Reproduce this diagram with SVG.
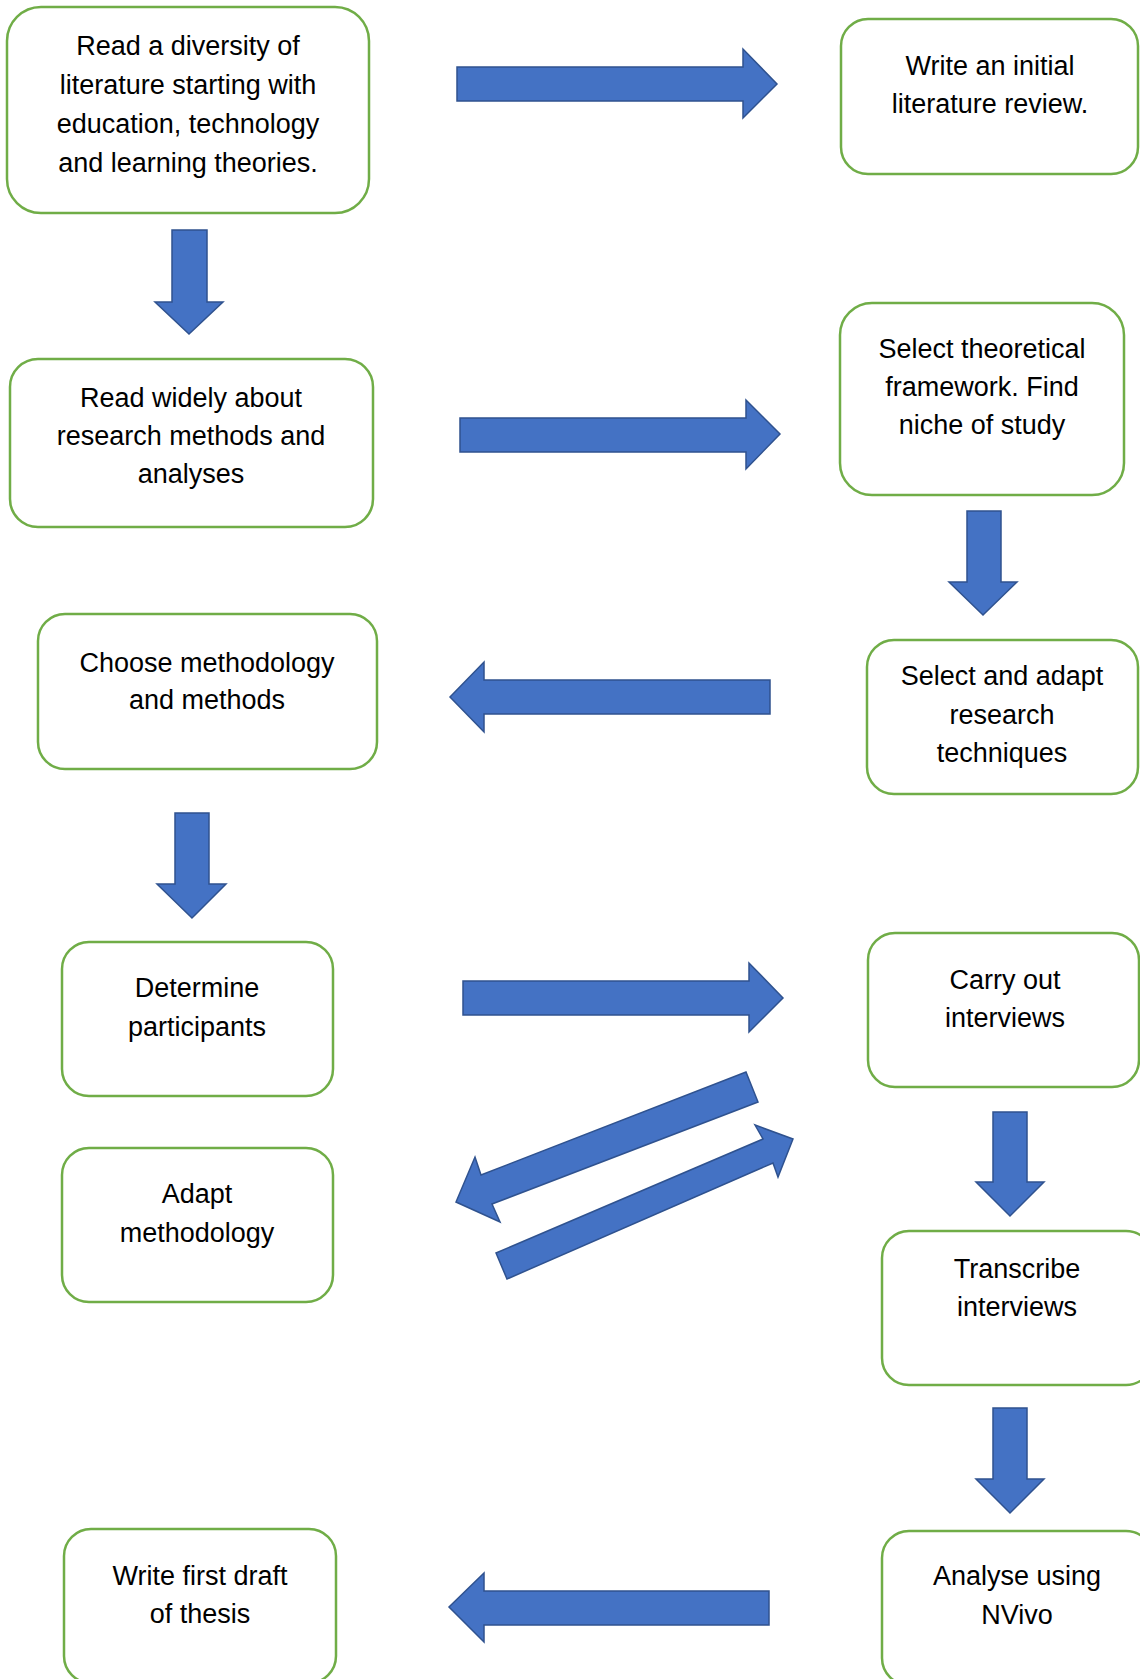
<svg xmlns="http://www.w3.org/2000/svg" width="1140" height="1679" viewBox="0 0 1140 1679">
<style>
.box{fill:#fff;stroke:#70AD47;stroke-width:2.5}
.arr{fill:#4472C4;stroke:#2F528F;stroke-width:1.5;stroke-linejoin:miter}
text{font-family:"Liberation Sans",Arial,sans-serif;font-size:27px;fill:#000;text-anchor:middle}
</style>
<rect width="1140" height="1679" fill="#fff"/>
<g id="connectors">
<polygon class="arr" points="457,67 743,67 743,49 777,84 743,118 743,101 457,101"/>
<polygon class="arr" points="172,230 207,230 207,302 223,302 189,334 155,302 172,302"/>
<polygon class="arr" points="460,418 746,418 746,400 780,434 746,469 746,452 460,452"/>
<polygon class="arr" points="967,511 1001,511 1001,582 1017,582 983,615 949,582 967,582"/>
<polygon class="arr" points="770,680 484,680 484,662 450,697 484,732 484,714 770,714"/>
<polygon class="arr" points="175,813 209,813 209,884 226,884 192,918 157,884 175,884"/>
<polygon class="arr" points="463,981 749,981 749,963 783,998 749,1032 749,1015 463,1015"/>
<polygon class="arr" points="746,1072 758,1102 492,1204 500,1222 456,1202 475,1157 481,1175"/>
<polygon class="arr" points="496,1253 763,1139 755,1125 793,1139 778,1177 773,1163 507,1279"/>
<polygon class="arr" points="993,1112 1027,1112 1027,1182 1044,1182 1010,1216 976,1182 993,1182"/>
<polygon class="arr" points="993,1408 1027,1408 1027,1479 1044,1479 1010,1513 976,1479 993,1479"/>
<polygon class="arr" points="769,1591 484,1591 484,1573 449,1607 484,1642 484,1625 769,1625"/>
</g>
<g id="n1"><rect class="box" x="7" y="7" width="362" height="206" rx="34"/>
<text x="188" y="55">Read a diversity of</text><text x="188" y="94">literature starting with</text><text x="188" y="133">education, technology</text><text x="188" y="172">and learning theories.</text></g>
<g id="n2"><rect class="box" x="841" y="19" width="297" height="155" rx="27"/>
<text x="990" y="75">Write an initial</text><text x="990" y="113">literature review.</text></g>
<g id="n3"><rect class="box" x="10" y="359" width="363" height="168" rx="28"/>
<text x="191" y="407">Read widely about</text><text x="191" y="445">research methods and</text><text x="191" y="483">analyses</text></g>
<g id="n4"><rect class="box" x="840" y="303" width="284" height="192" rx="32"/>
<text x="982" y="358">Select theoretical</text><text x="982" y="396">framework. Find</text><text x="982" y="434">niche of study</text></g>
<g id="n5"><rect class="box" x="38" y="614" width="339" height="155" rx="27"/>
<text x="207" y="672">Choose methodology</text><text x="207" y="709">and methods</text></g>
<g id="n6"><rect class="box" x="867" y="640" width="271" height="154" rx="27"/>
<text x="1002" y="685">Select and adapt</text><text x="1002" y="724">research</text><text x="1002" y="762">techniques</text></g>
<g id="n7"><rect class="box" x="62" y="942" width="271" height="154" rx="27"/>
<text x="197" y="997">Determine</text><text x="197" y="1036">participants</text></g>
<g id="n8"><rect class="box" x="868" y="933" width="271" height="154" rx="27"/>
<text x="1005" y="989">Carry out</text><text x="1005" y="1027">interviews</text></g>
<g id="n9"><rect class="box" x="62" y="1148" width="271" height="154" rx="27"/>
<text x="197" y="1203">Adapt</text><text x="197" y="1242">methodology</text></g>
<g id="n10"><rect class="box" x="882" y="1231" width="271" height="154" rx="27"/>
<text x="1017" y="1278">Transcribe</text><text x="1017" y="1316">interviews</text></g>
<g id="n11"><rect class="box" x="64" y="1529" width="272" height="154" rx="27"/>
<text x="200" y="1585">Write first draft</text><text x="200" y="1623">of thesis</text></g>
<g id="n12"><rect class="box" x="882" y="1531" width="271" height="154" rx="27"/>
<text x="1017" y="1585">Analyse using</text><text x="1017" y="1624">NVivo</text></g>
</svg>
